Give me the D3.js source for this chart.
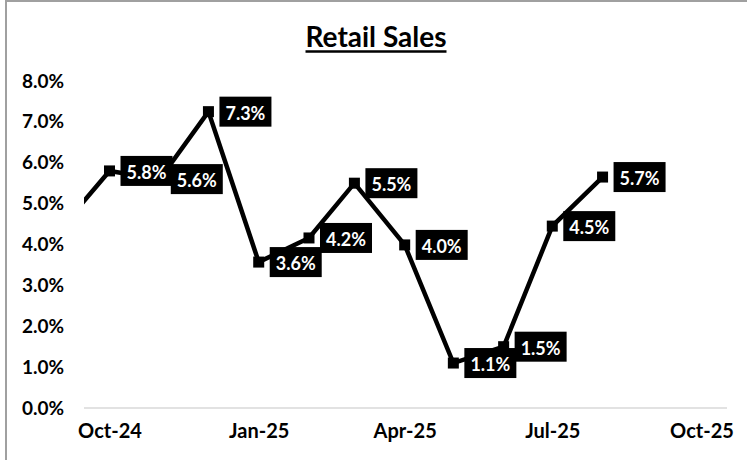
<!DOCTYPE html>
<html>
<head>
<meta charset="utf-8">
<script src="https://cdn.jsdelivr.net/npm/d3@7"></script>
<style>
  html, body { margin: 0; padding: 0; background: #fff; }
  svg { display: block; font-family: Lato, "Open Sans", sans-serif; }
</style>
</head>
<body>
<svg id="chart" width="747" height="460"></svg>
<script>
// ---- Data ----
const title = "Retail Sales";
const months = ["2024-09","2024-10","2024-11","2024-12","2025-01","2025-02","2025-03","2025-04","2025-05","2025-06","2025-07","2025-08"];
const salesGrowth = [4.4, 5.8, 5.6, 7.25, 3.57, 4.16, 5.5, 3.99, 1.1, 1.5, 4.45, 5.65];
const xTickMonths = ["2024-10","2025-01","2025-04","2025-07","2025-10"];
const yTicks = [0, 1, 2, 3, 4, 5, 6, 7, 8];

// ---- Layout ----
const svg = d3.select("#chart");
const plot = { left: 84, right: 727, top: 60, bottom: 408 };

const parse = d3.utcParse("%Y-%m");
const data = months.map((m, i) => ({ date: parse(m), value: salesGrowth[i] }));

const x = d3.scaleUtc()
  .domain([parse("2024-10"), parse("2025-10")])
  .range([109.5, 701.5]);
const y = d3.scaleLinear().domain([0, 8]).range([plot.bottom, 81]);

// chart border
svg.append("rect")
  .attr("x", 6).attr("y", 1).attr("width", 800).attr("height", 600)
  .attr("fill", "none").attr("stroke", "#a0a0a0").attr("stroke-width", 2);

// title
const t = svg.append("text")
  .attr("x", 376).attr("y", 47)
  .attr("text-anchor", "middle")
  .attr("font-size", 28).attr("font-weight", "bold").attr("fill", "#000")
  .text(title);
const tb = t.node().getBBox();
svg.append("line")
  .attr("x1", tb.x).attr("x2", tb.x + tb.width)
  .attr("y1", 51.5).attr("y2", 51.5)
  .attr("stroke", "#000").attr("stroke-width", 2.5);

// clip for plot area
svg.append("defs").append("clipPath").attr("id", "plotclip")
  .append("rect")
  .attr("x", plot.left).attr("y", plot.top)
  .attr("width", plot.right - plot.left).attr("height", plot.bottom - plot.top + 10);

// y axis labels (no line)
const yAxis = svg.append("g")
  .attr("transform", `translate(${plot.left},0)`)
  .call(d3.axisLeft(y).tickValues(yTicks).tickSize(0).tickPadding(20)
    .tickFormat(d => d3.format(".1f")(d) + "%"));
yAxis.select(".domain").remove();
yAxis.selectAll("text")
  .attr("font-family", "Lato, sans-serif")
  .attr("font-size", 19).attr("font-weight", "bold").attr("fill", "#000");

// baseline (horizontal axis line)
svg.append("line")
  .attr("x1", plot.left).attr("x2", plot.right)
  .attr("y1", y(0)).attr("y2", y(0))
  .attr("stroke", "#d9d9d9").attr("stroke-width", 1.5);

// x axis labels
const xAxis = svg.append("g")
  .attr("transform", `translate(0,${plot.bottom})`)
  .call(d3.axisBottom(x).tickValues(xTickMonths.map(parse)).tickSize(0).tickPadding(16)
    .tickFormat(d3.utcFormat("%b-%y")));
xAxis.select(".domain").remove();
xAxis.selectAll("text")
  .attr("font-family", "Lato, sans-serif")
  .attr("font-size", 20).attr("font-weight", "bold").attr("fill", "#000");

// line + markers
const g = svg.append("g").attr("clip-path", "url(#plotclip)");
g.append("path")
  .datum(data)
  .attr("fill", "none").attr("stroke", "#000").attr("stroke-width", 4.5)
  .attr("stroke-linejoin", "miter")
  .attr("d", d3.line().x(d => x(d.date)).y(d => y(d.value)));

const ms = 11;
g.selectAll("rect.marker").data(data).join("rect")
  .attr("class", "marker")
  .attr("x", d => x(d.date) - ms / 2).attr("y", d => y(d.value) - ms / 2)
  .attr("width", ms).attr("height", ms).attr("fill", "#000");

// data labels (only for points inside the axis range)
const visible = data.filter(d => x(d.date) >= plot.left && x(d.date) <= plot.right);
const lg = svg.append("g");
visible.forEach(d => {
  const px = x(d.date), py = y(d.value);
  const grp = lg.append("g");
  const bg = grp.append("rect").attr("fill", "#000");
  const tx = grp.append("text")
    .attr("font-size", 18).attr("font-weight", "bold").attr("fill", "#fff")
    .attr("text-anchor", "middle").attr("dominant-baseline", "central")
    .text(d3.format(".1f")(d.value) + "%");
  const w = 52, h = 30;
  const bx = px + 11;
  bg.attr("x", bx).attr("y", py - h / 2).attr("width", w).attr("height", h);
  tx.attr("x", bx + w / 2).attr("y", py + 1);
});
</script>
</body>
</html>
